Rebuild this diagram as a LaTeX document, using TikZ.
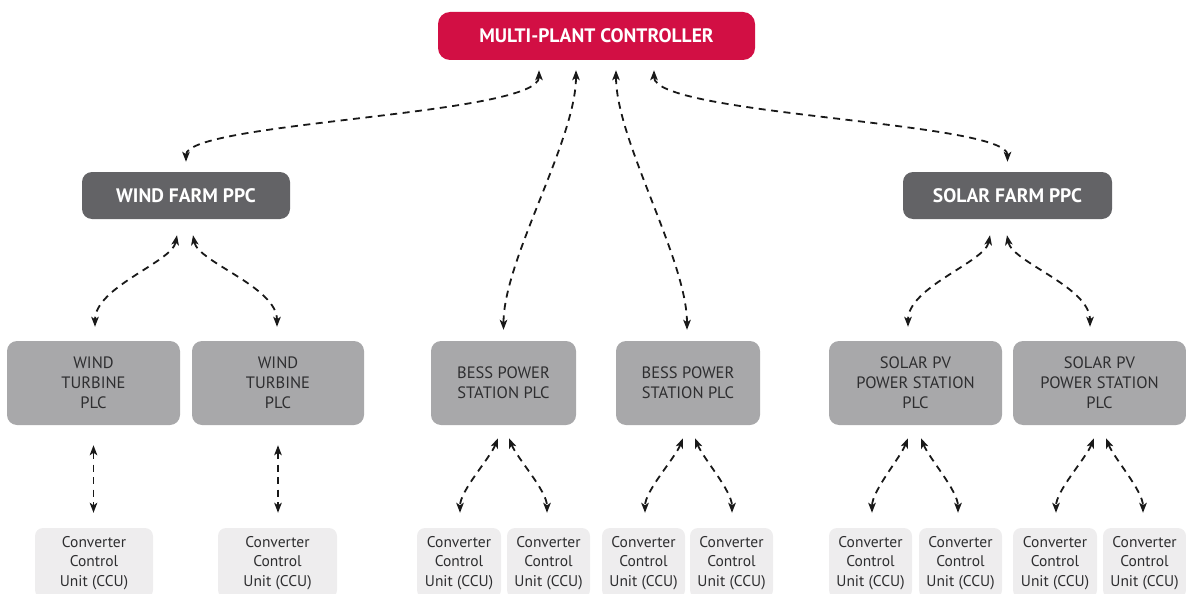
\documentclass[tikz,border=0pt]{standalone}
\usepackage{fontspec}
\setmainfont{PT Sans}
\usetikzlibrary{arrows.meta,calc}
\definecolor{mpcred}{HTML}{D20F44}
\definecolor{ppcgray}{HTML}{636366}
\definecolor{plcgray}{HTML}{A8A8AA}
\definecolor{ccugray}{HTML}{EEEDEE}
\definecolor{txtdark}{HTML}{2E2E30}
\tikzset{
  box/.style={rectangle,rounded corners=10pt,inner sep=0pt,align=center},
  mpcbox/.style={box,fill=mpcred,text=white,font=\bfseries\fontsize{19.5}{22}\selectfont,minimum width=317pt,minimum height=48pt,rounded corners=12pt},
  ppcbox/.style={box,fill=ppcgray,text=white,font=\bfseries\fontsize{19.5}{22}\selectfont,minimum height=47pt},
  plcbox/.style={box,fill=plcgray,text=txtdark,font=\fontsize{16.5}{20}\selectfont,minimum height=84pt},
  ccubox/.style={box,fill=ccugray,text=txtdark,font=\fontsize{15.5}{19.3}\selectfont,minimum height=70pt,rounded corners=8pt},
  conn/.style={draw=black!90,line width=1.8pt,dash pattern=on 7pt off 5.5pt,{Stealth[length=10pt,width=7.5pt,inset=2.5pt]}-{Stealth[length=10pt,width=7.5pt,inset=2.5pt]}},
}
\begin{document}
\begin{tikzpicture}[x=1pt,y=-1pt]
\useasboundingbox (0,0) rectangle (1186,594);
\clip (0,0) rectangle (1186,594);
% top
\node[mpcbox] (mpc) at (596.5,36) {MULTI-PLANT CONTROLLER};
\node[ppcbox,minimum width=208pt] (wppc) at (186,195.5) {WIND FARM PPC};
\node[ppcbox,minimum width=209pt] (sppc) at (1007.5,195.5) {SOLAR FARM PPC};
% PLCs
\node[plcbox,minimum width=173pt] (wt1) at (93.5,383) {WIND\\TURBINE\\PLC};
\node[plcbox,minimum width=172pt] (wt2) at (278,383) {WIND\\TURBINE\\PLC};
\node[plcbox,minimum width=145pt] (b1) at (503.5,383) {BESS POWER\\STATION PLC};
\node[plcbox,minimum width=144pt] (b2) at (688,383) {BESS POWER\\STATION PLC};
\node[plcbox,minimum width=173pt] (s1) at (915.5,383) {SOLAR PV\\POWER STATION\\PLC};
\node[plcbox,minimum width=173pt] (s2) at (1099.5,383) {SOLAR PV\\POWER STATION\\PLC};
% CCUs
\node[ccubox,minimum width=118pt] (cw1) at (94,563) {Converter\\Control\\Unit (CCU)};
\node[ccubox,minimum width=119pt] (cw2) at (277.5,563) {Converter\\Control\\Unit (CCU)};
\node[ccubox,minimum width=84pt] (cb1a) at (459,563) {Converter\\Control\\Unit (CCU)};
\node[ccubox,minimum width=83pt] (cb1b) at (548.5,563) {Converter\\Control\\Unit (CCU)};
\node[ccubox,minimum width=83pt] (cb2a) at (643.5,563) {Converter\\Control\\Unit (CCU)};
\node[ccubox,minimum width=83pt] (cb2b) at (731.5,563) {Converter\\Control\\Unit (CCU)};
\node[ccubox,minimum width=83pt] (cs1a) at (870.5,563) {Converter\\Control\\Unit (CCU)};
\node[ccubox,minimum width=83pt] (cs1b) at (960.5,563) {Converter\\Control\\Unit (CCU)};
\node[ccubox,minimum width=84pt] (cs2a) at (1055,563) {Converter\\Control\\Unit (CCU)};
\node[ccubox,minimum width=83pt] (cs2b) at (1144.5,563) {Converter\\Control\\Unit (CCU)};
% MPC links
\draw[conn] ($(mpc.south)+(-57.5,10)$) .. controls +(0,45) and +(0,-40) .. ($(wppc.north)+(0,-10)$);
\draw[conn] ($(mpc.south)+(-20.5,10)$) .. controls +(0,70) and +(0,-70) .. ($(b1.north)+(0,-11)$);
\draw[conn] ($(mpc.south)+(19.5,10)$) .. controls +(0,70) and +(0,-70) .. ($(b2.north)+(-1,-11)$);
\draw[conn] ($(mpc.south)+(57.5,10)$) .. controls +(0,45) and +(0,-40) .. ($(sppc.north)+(0,-10)$);
% PPC links
\draw[conn] ($(wppc.south)+(-9,16)$) .. controls +(-5,27) and +(0,-40) .. ($(wt1.north)+(1.5,-14)$);
\draw[conn] ($(wppc.south)+(7,16)$) .. controls +(5,27) and +(0,-40) .. ($(wt2.north)+(-1,-14)$);
\draw[conn] ($(sppc.south)+(-17.5,16)$) .. controls +(-5,27) and +(0,-40) .. ($(s1.north)+(-7.5,-14)$);
\draw[conn] ($(sppc.south)+(-0.5,16)$) .. controls +(5,27) and +(0,-40) .. ($(s2.north)+(-9.5,-14)$);
% PLC to CCU
\draw[conn] ($(wt1.south)+(0,20)$) -- ($(cw1.north)+(-0.5,-15)$);
\draw[conn] ($(wt2.south)+(0,20)$) -- ($(cw2.north)+(0.5,-15)$);
\draw[conn] ($(b1.south)+(-5.5,13)$) .. controls +(-8,20) and +(0,-22) .. ($(cb1a.north)+(1,-15)$);
\draw[conn] ($(b1.south)+(5.5,13)$) .. controls +(8,20) and +(0,-22) .. ($(cb1b.north)+(-1.5,-15)$);
\draw[conn] ($(b2.south)+(-5,13)$) .. controls +(-8,20) and +(0,-22) .. ($(cb2a.north)+(1.5,-15)$);
\draw[conn] ($(b2.south)+(7,13)$) .. controls +(8,20) and +(0,-22) .. ($(cb2b.north)+(0.5,-15)$);
\draw[conn] ($(s1.south)+(-7.5,13)$) .. controls +(-8,20) and +(0,-22) .. ($(cs1a.north)+(1.5,-15)$);
\draw[conn] ($(s1.south)+(5.5,13)$) .. controls +(8,20) and +(0,-22) .. ($(cs1b.north)+(-2.5,-15)$);
\draw[conn] ($(s2.south)+(-5.5,13)$) .. controls +(-8,20) and +(0,-22) .. ($(cs2a.north)+(1,-15)$);
\draw[conn] ($(s2.south)+(6.5,13)$) .. controls +(8,20) and +(0,-22) .. ($(cs2b.north)+(-1.5,-15)$);
\end{tikzpicture}
\end{document}
